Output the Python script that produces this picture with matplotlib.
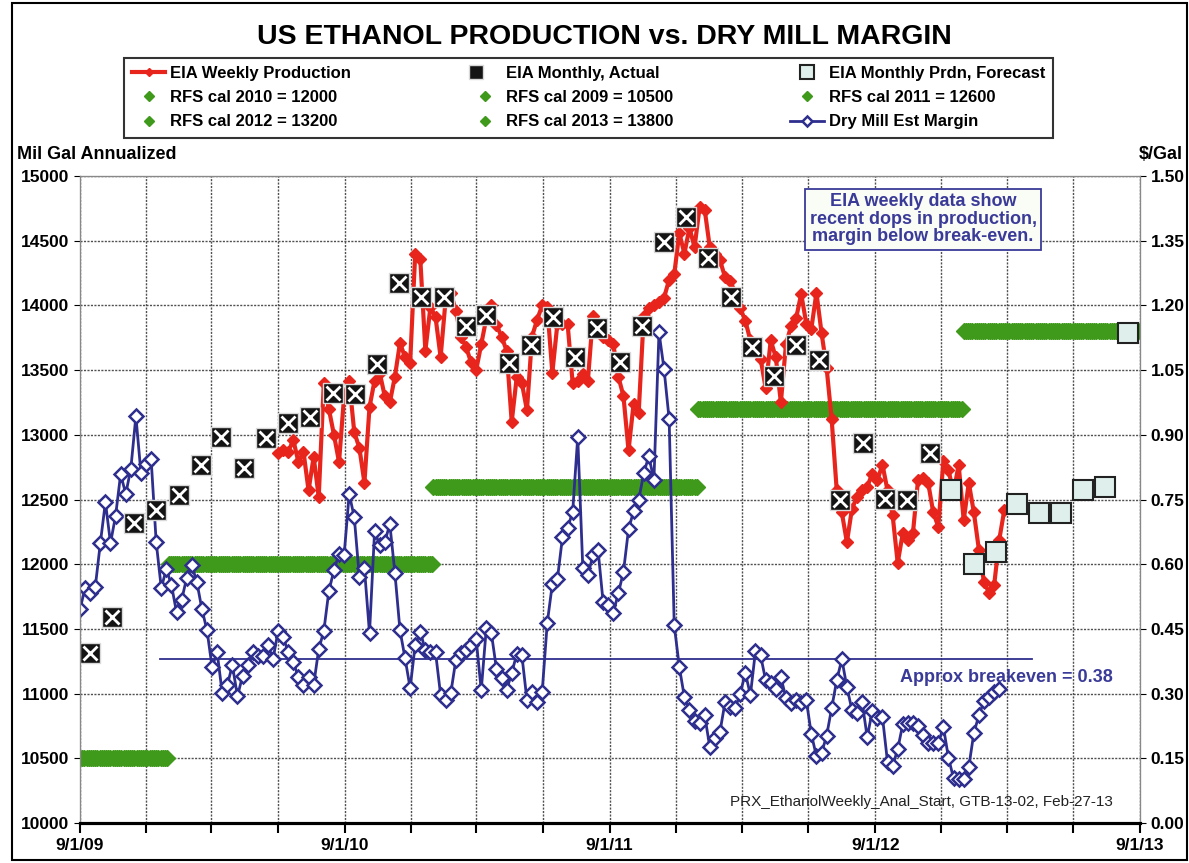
import matplotlib
matplotlib.use("Agg")
import matplotlib.pyplot as plt
import matplotlib.dates as mdates
from matplotlib.legend_handler import HandlerTuple
from matplotlib.patches import Rectangle
import numpy as np
import pandas as pd

plt.rcParams['font.family'] = ['Liberation Sans', 'DejaVu Sans']

# ---- data ----
# Dry mill margin, $/gal, weekly from 9/1/09
margin_start = '2009-09-01'
margin = [0.496, 0.545, 0.533, 0.547, 0.649, 0.744, 0.649, 0.712, 0.809, 0.763,
          0.821, 0.943, 0.811, 0.832, 0.844, 0.651, 0.545, 0.589, 0.552, 0.489,
          0.517, 0.568, 0.598, 0.559, 0.496, 0.447, 0.362, 0.396, 0.301, 0.320,
          0.366, 0.294, 0.341, 0.366, 0.396, 0.387, 0.387, 0.413, 0.380, 0.445,
          0.431, 0.396, 0.373, 0.338, 0.320, 0.338, 0.320, 0.403, 0.445, 0.538,
          0.586, 0.624, 0.621,
          0.763, 0.709, 0.570, 0.591, 0.440, 0.677, 0.644, 0.651, 0.693, 0.580,
          0.447, 0.382, 0.313, 0.413, 0.443, 0.401, 0.396, 0.396, 0.297, 0.285,
          0.301, 0.378, 0.394, 0.401, 0.413, 0.426, 0.308, 0.452, 0.440, 0.357,
          0.336, 0.308, 0.348, 0.392, 0.389, 0.285, 0.304, 0.280, 0.304, 0.464,
          0.554, 0.566, 0.663, 0.684, 0.721, 0.895, 0.591, 0.575, 0.621, 0.633,
          0.512, 0.505, 0.487, 0.533, 0.582, 0.681, 0.723, 0.749, 0.811, 0.851,
          0.795, 1.138, 1.052, 0.936, 0.459, 0.362, 0.292, 0.262,
          0.236, 0.232, 0.250, 0.176, 0.197, 0.211, 0.280, 0.269, 0.267, 0.300,
          0.348, 0.297, 0.399, 0.389, 0.331, 0.325, 0.311, 0.338, 0.290, 0.278, 0.285,
          0.278, 0.285, 0.206, 0.155, 0.162, 0.202, 0.267, 0.331, 0.380, 0.315,
          0.262, 0.255, 0.280, 0.199, 0.260, 0.243, 0.246, 0.141, 0.132, 0.171,
          0.229, 0.232, 0.232, 0.225, 0.204, 0.185, 0.185, 0.185, 0.223, 0.151,
          0.104, 0.102, 0.102, 0.130, 0.209, 0.250, 0.283, 0.292, 0.304, 0.311]

# EIA weekly production, mil gal annualized, weekly from 6/1/10
weekly_start = '2010-06-01'
weekly_prod = [12860, 12880, 12870, 12960, 12790, 12870, 12570, 12830, 12520, 13400,
               13200, 13000, 12790, 13300, 13420, 13020, 12900, 12630, 13215, 13420,
               13480, 13300, 13250, 13450, 13710, 13600, 13555, 14400, 14360, 13650,
               13990, 13910, 13600, 14050, 14100, 13960, 13760, 13680, 13560, 13500,
               13700, 13900, 14000, 13850, 13760, 13650, 13100, 13450, 13400, 13190,
               13760, 13890, 14000, 13990, 13480, 13860, 13860, 13860, 13400, 13420,
               13470, 13420, 13920, 13830, 13760, 13730, 13700, 13450, 13300, 12880,
               13240, 13170, 13920, 13980, 14000, 14030, 14060, 14200, 14240, 14560,
               14400, 14600, 14450, 14760, 14740, 14450, 14400, 14350, 14220, 14190,
               14100, 13980, 13880, 13730, 13650, 13590, 13360, 13730, 13600, 13250,
               13700, 13840, 13900, 14090, 13860, 13820, 14100, 13790, 13520, 13120,
               12570, 12400, 12170, 12430, 12520, 12570, 12600, 12700, 12650, 12770,
               12570, 12380, 12010, 12240, 12190, 12240, 12650, 12670, 12630, 12400,
               12290, 12800, 12730, 12550, 12770, 12340, 12630, 12400, 12110, 11860,
               11780, 11840, 12190, 12420]

# EIA monthly production, actual, Sep 2009 - Nov 2012
monthly_start = '2009-09-01'
monthly_actual = [11314, 11592, 12318, 12419, 12535, 12767, 12983, 12743, 12975, 13091,
                  13138, 13323, 13315, 13547, 14173, 14065, 14065, 13841, 13926, 13555,
                  13694, 13910, 13601, 13825, 13563, 13840, 14490, 14683, 14366, 14065,
                  13679, 13455, 13694, 13579, 12496, 12937, 12504, 12496, 12859]

# EIA monthly production, forecast, Dec 2012 - Aug 2013
forecast_start = '2012-12-01'
monthly_forecast = [12573, 12001, 12094, 12465, 12395, 12395, 12573, 12597, 13787]

# RFS calendar-year mandates
rfs_labels = ['RFS cal 2009 = 10500', 'RFS cal 2010 = 12000', 'RFS cal 2011 = 12600',
              'RFS cal 2012 = 13200', 'RFS cal 2013 = 13800']
rfs_levels = [10500, 12000, 12600, 13200, 13800]
rfs_starts = ['2009-09-01', '2010-01-01', '2011-01-01', '2012-01-01', '2013-01-01']
rfs_ends = ['2009-12-31', '2010-12-31', '2011-12-31', '2012-12-31', '2013-09-01']

breakeven = 0.38
breakeven_span = ['2009-12-20', '2013-04-05']

# ---- dates ----
margin_dates = pd.date_range(margin_start, periods=len(margin), freq='7D')
weekly_dates = pd.date_range(weekly_start, periods=len(weekly_prod), freq='7D')
monthly_dates = pd.date_range(monthly_start, periods=len(monthly_actual), freq='MS') + pd.Timedelta(days=14)
forecast_dates = pd.date_range(forecast_start, periods=len(monthly_forecast), freq='MS') + pd.Timedelta(days=14)

# ---- figure ----
fig = plt.figure(figsize=(11.89, 8.63), dpi=100)
ax = fig.add_axes([0.0673, 0.0463, 0.8915, 0.7497])
ax2 = ax.twinx()
ax3 = ax.twinx()
ax.set_zorder(1)
ax2.set_zorder(2)
ax3.set_zorder(3)
ax2.patch.set_visible(False)
ax3.patch.set_visible(False)

green = '#3f9a1c'
red = '#e8251d'
navy = '#2e2e8e'

# RFS lines (host axis, bottom layer)
rfs_handles = {}
for lab, lev, s, e in zip(rfs_labels, rfs_levels, rfs_starts, rfs_ends):
    d = pd.date_range(s, e, freq='3D')
    h, = ax.plot(d, np.full(len(d), lev), linestyle='none', marker='D',
                 markersize=8, color=green, markeredgecolor=green)
    rfs_handles[lab] = h

# margin (right axis)
ax2.plot(pd.to_datetime(breakeven_span), [breakeven, breakeven], color=navy, lw=1.3)
h_margin, = ax2.plot(margin_dates, margin, color=navy, lw=2, marker='D',
                     markersize=7, markerfacecolor='white', markeredgecolor=navy,
                     markeredgewidth=1.8)

# production (top layer)
h_weekly, = ax3.plot(weekly_dates, weekly_prod, color=red, lw=3, marker='D',
                     markersize=6, markerfacecolor=red, markeredgecolor=red)
h_act_sq, = ax3.plot(monthly_dates, monthly_actual, linestyle='none', marker='s',
                     markersize=14, markerfacecolor='#141414', markeredgecolor='#d8d8d8',
                     markeredgewidth=1)
h_act_x, = ax3.plot(monthly_dates, monthly_actual, linestyle='none', marker='x',
                    markersize=10, markeredgecolor='white', markeredgewidth=2)
h_fc, = ax3.plot(forecast_dates, monthly_forecast, linestyle='none', marker='s',
                 markersize=14, markerfacecolor='#dff0ec', markeredgecolor='#222222',
                 markeredgewidth=1.5)

# ---- axes ----
xmin, xmax = pd.Timestamp('2009-09-01'), pd.Timestamp('2013-09-01')
for a in (ax, ax2, ax3):
    a.set_xlim(xmin, xmax)
ax.set_ylim(10000, 15000)
ax3.set_ylim(10000, 15000)
ax2.set_ylim(0, 1.5)


def sept_label(v, pos):
    d = mdates.num2date(v)
    return f'{d.month}/{d.day}/{d.strftime("%y")}' if d.month == 9 else ''


ax.xaxis.set_major_locator(mdates.MonthLocator(bymonth=[3, 6, 9, 12], bymonthday=1))
ax.xaxis.set_major_formatter(plt.FuncFormatter(sept_label))
ax.tick_params(axis='x', which='major', direction='out', length=7, width=1.5,
               colors='black', pad=4, labelsize=12.5)
for t in ax.get_xticklabels():
    t.set_fontweight('bold')

ax.set_yticks(np.arange(10000, 15001, 500))
ax.tick_params(axis='y', length=4, labelsize=12.5)
for t in ax.get_yticklabels():
    t.set_fontweight('bold')
ax2.set_yticks(np.arange(0, 1.501, 0.15))
ax2.yaxis.set_major_formatter(plt.FuncFormatter(lambda v, p: f'{v:.2f}'))
ax2.tick_params(axis='y', length=4, labelsize=12.5)
for t in ax2.get_yticklabels():
    t.set_fontweight('bold')
ax3.set_yticks([])
ax3.tick_params(axis='y', length=0, labelright=False)
for a in (ax2, ax3):
    a.tick_params(axis='x', length=0, labelbottom=False)

ax.grid(True, which='major', color='#505050', linestyle=(0, (1.5, 1)), linewidth=1)
for a in (ax, ax2, ax3):
    for s in a.spines.values():
        s.set_color('#888888')
        s.set_linewidth(0.8)
    a.spines['bottom'].set_color('black')
    a.spines['bottom'].set_linewidth(2.2)

# ---- text ----
fig.text(0.508, 0.957, 'US ETHANOL PRODUCTION vs. DRY MILL MARGIN', ha='center', va='center',
         fontsize=20.5, fontweight='bold')
fig.text(0.014, 0.821, 'Mil Gal Annualized', ha='left', va='center',
         fontsize=13, fontweight='bold')
fig.text(0.995, 0.821, '$/Gal', ha='right', va='center',
         fontsize=13, fontweight='bold')

ax2.text(pd.Timestamp('2012-11-06'), 1.40,
         'EIA weekly data show\nrecent dops in production,\nmargin below break-even.',
         ha='center', va='center', fontsize=13, fontweight='bold', color='#3a3a98',
         linespacing=1.05,
         bbox=dict(boxstyle='square,pad=0.25', facecolor='#fafcf6', edgecolor='#3a3a98', lw=1.3))
ax2.text(pd.Timestamp('2013-03-01'), 0.338, 'Approx breakeven = 0.38', ha='center', va='center',
         fontsize=13, fontweight='bold', color='#3a3a98')
fig.text(0.936, 0.071, 'PRX_EthanolWeekly_Anal_Start, GTB-13-02, Feb-27-13', ha='right',
         va='center', fontsize=11, color='#222222')

# ---- legend ----
handles = [h_weekly, rfs_handles['RFS cal 2010 = 12000'], rfs_handles['RFS cal 2012 = 13200'],
           (h_act_sq, h_act_x), rfs_handles['RFS cal 2009 = 10500'], rfs_handles['RFS cal 2013 = 13800'],
           h_fc, rfs_handles['RFS cal 2011 = 12600'], h_margin]
labels = ['EIA Weekly Production', 'RFS cal 2010 = 12000', 'RFS cal 2012 = 13200',
          'EIA Monthly, Actual', 'RFS cal 2009 = 10500', 'RFS cal 2013 = 13800',
          'EIA Monthly Prdn, Forecast', 'RFS cal 2011 = 12600', 'Dry Mill Est Margin']
leg = fig.legend(handles, labels, ncol=3, loc='upper left', bbox_to_anchor=(0.104, 0.933),
                 borderaxespad=0, frameon=True, fancybox=False, edgecolor='black', borderpad=0.5,
                 prop={'weight': 'bold', 'size': 12},
                 handlelength=2.0, handletextpad=0.3, columnspacing=7.0, labelspacing=0.55,
                 handler_map={tuple: HandlerTuple(ndivide=None, pad=0)}, markerscale=0.7)
leg.get_frame().set_linewidth(1.5)

fig.patches.append(Rectangle((0.010, 0.003), 0.988, 0.994, transform=fig.transFigure,
                             fill=False, edgecolor='black', lw=1.5))

fig.savefig('out.png', dpi=100)
